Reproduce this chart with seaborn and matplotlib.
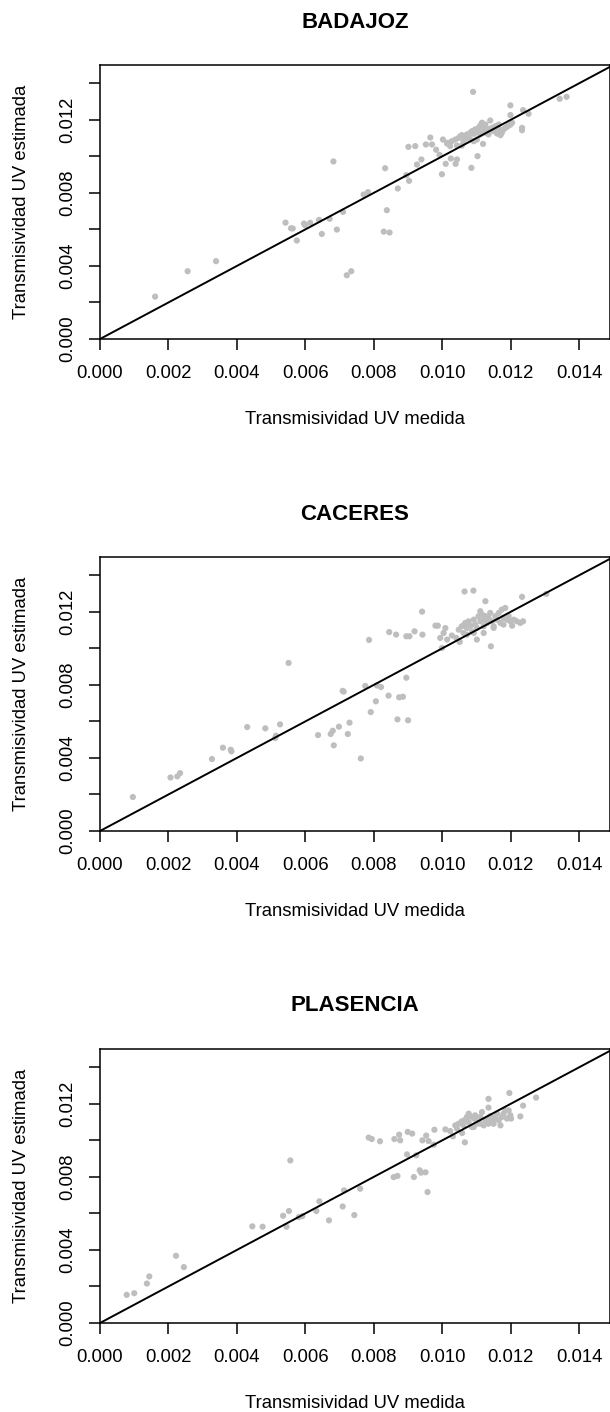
import matplotlib
matplotlib.use("Agg")
import numpy as np
import pandas as pd
import matplotlib.pyplot as plt
import seaborn as sns

#### Data ####

estaciones = ["BADAJOZ", "CACERES", "PLASENCIA"]

badajoz_med = [0.00161, 0.00256, 0.00339, 0.00542, 0.00558, 0.00563, 0.00575, 0.00596, 0.00599, 0.00614,
               0.00640, 0.00648, 0.00671, 0.00682, 0.00692, 0.00710, 0.00721, 0.00734, 0.00770, 0.00783,
               0.00829, 0.00833, 0.00838, 0.00846, 0.00870, 0.00895, 0.00903, 0.00901, 0.00921, 0.00926,
               0.00939, 0.00952, 0.00965, 0.00970, 0.00982, 0.00992, 0.00999, 0.01002, 0.01010, 0.01016,
               0.01025, 0.01023, 0.01039, 0.01043, 0.01085, 0.01090, 0.01103, 0.01119, 0.01140, 0.01199,
               0.01199, 0.01233, 0.01233, 0.01236, 0.01252, 0.01343, 0.01363,
               0.01014, 0.01028, 0.01038, 0.01048, 0.01053, 0.01057, 0.01062, 0.01067, 0.01072, 0.01077,
               0.01082, 0.01087, 0.01092, 0.01096, 0.01101, 0.01106, 0.01111, 0.01116, 0.01116, 0.01121,
               0.01126, 0.01131, 0.01135, 0.01140, 0.01145, 0.01150, 0.01155, 0.01160, 0.01165, 0.01170,
               0.01174, 0.01179, 0.01184, 0.01189, 0.01194, 0.01199, 0.01204, 0.01043, 0.01057, 0.01092,
               0.01101, 0.01062, 0.01082, 0.01111, 0.01126, 0.01165]
badajoz_est = [0.00232, 0.00371, 0.00426, 0.00637, 0.00606, 0.00605, 0.00539, 0.00632, 0.00623, 0.00636,
               0.00652, 0.00575, 0.00658, 0.00972, 0.00599, 0.00696, 0.00349, 0.00371, 0.00791, 0.00804,
               0.00588, 0.00935, 0.00705, 0.00583, 0.00824, 0.00897, 0.00866, 0.01052, 0.01056, 0.00955,
               0.00983, 0.01065, 0.01103, 0.01065, 0.01036, 0.01008, 0.00902, 0.01092, 0.00959, 0.01074,
               0.00988, 0.01056, 0.00959, 0.00983, 0.00937, 0.01353, 0.01001, 0.01068, 0.01196, 0.01279,
               0.01226, 0.01156, 0.01143, 0.01253, 0.01233, 0.01315, 0.01326,
               0.01070, 0.01083, 0.01092, 0.01101, 0.01111, 0.01116, 0.01107, 0.01096, 0.01120, 0.01111,
               0.01129, 0.01138, 0.01123, 0.01147, 0.01132, 0.01156, 0.01169, 0.01184, 0.01143, 0.01162,
               0.01129, 0.01151, 0.01120, 0.01143, 0.01156, 0.01138, 0.01165, 0.01125, 0.01147, 0.01116,
               0.01129, 0.01147, 0.01156, 0.01162, 0.01169, 0.01174, 0.01184, 0.01059, 0.01059, 0.01083,
               0.01092, 0.01083, 0.01092, 0.01120, 0.01174, 0.01174]

caceres_med = [0.00096, 0.00206, 0.00226, 0.00234, 0.00327, 0.00359, 0.00382, 0.00384, 0.00430, 0.00483,
               0.00512, 0.00514, 0.00526, 0.00551, 0.00637, 0.00674, 0.00680, 0.00683, 0.00698, 0.00709,
               0.00712, 0.00724, 0.00729, 0.00762, 0.00775, 0.00786, 0.00791, 0.00806, 0.00809, 0.00821,
               0.00843, 0.00845, 0.00865, 0.00869, 0.00874, 0.00885, 0.00895, 0.00895, 0.00900, 0.00904,
               0.00919, 0.00941, 0.00942, 0.00980, 0.00987, 0.00994, 0.00999, 0.01004, 0.01009, 0.01014,
               0.01041, 0.01051, 0.01065, 0.01091, 0.01101, 0.01126, 0.01142, 0.01233, 0.01304,
               0.01048, 0.01057, 0.01062, 0.01067, 0.01072, 0.01077, 0.01082, 0.01087, 0.01092, 0.01096,
               0.01101, 0.01106, 0.01111, 0.01111, 0.01116, 0.01121, 0.01121, 0.01126, 0.01131, 0.01135,
               0.01140, 0.01145, 0.01150, 0.01155, 0.01160, 0.01165, 0.01170, 0.01174, 0.01179, 0.01184,
               0.01189, 0.01194, 0.01199, 0.01204, 0.01209, 0.01218, 0.01228, 0.01236, 0.01072, 0.01092,
               0.01028, 0.01121, 0.01150, 0.01179]
caceres_est = [0.00186, 0.00293, 0.00299, 0.00317, 0.00394, 0.00456, 0.00445, 0.00436, 0.00569, 0.00562,
               0.00509, 0.00522, 0.00584, 0.00920, 0.00525, 0.00531, 0.00549, 0.00469, 0.00571, 0.00767,
               0.00763, 0.00531, 0.00593, 0.00397, 0.00794, 0.01046, 0.00651, 0.00710, 0.00797, 0.00788,
               0.00741, 0.01089, 0.01075, 0.00611, 0.00732, 0.00735, 0.01066, 0.00839, 0.00606, 0.01066,
               0.01093, 0.01201, 0.01075, 0.01124, 0.01124, 0.01057, 0.01002, 0.01084, 0.01111, 0.01048,
               0.01057, 0.01035, 0.01311, 0.01316, 0.01048, 0.01258, 0.01011, 0.01282, 0.01298,
               0.01102, 0.01121, 0.01084, 0.01139, 0.01112, 0.01148, 0.01124, 0.01093, 0.01157, 0.01130,
               0.01112, 0.01176, 0.01148, 0.01203, 0.01185, 0.01157, 0.01121, 0.01176, 0.01139, 0.01166,
               0.01194, 0.01148, 0.01121, 0.01176, 0.01157, 0.01194, 0.01139, 0.01212, 0.01166, 0.01221,
               0.01157, 0.01176, 0.01148, 0.01124, 0.01157, 0.01148, 0.01139, 0.01148, 0.01075, 0.01084,
               0.01070, 0.01084, 0.01112, 0.01130]

plasencia_med = [0.00078, 0.00100, 0.00137, 0.00144, 0.00222, 0.00245, 0.00445, 0.00475, 0.00535, 0.00545,
                 0.00552, 0.00556, 0.00581, 0.00591, 0.00632, 0.00641, 0.00669, 0.00709, 0.00713, 0.00743,
                 0.00760, 0.00785, 0.00794, 0.00818, 0.00858, 0.00869, 0.00860, 0.00874, 0.00877, 0.00897,
                 0.00899, 0.00912, 0.00917, 0.00924, 0.00934, 0.00938, 0.00942, 0.00951, 0.00953, 0.00957,
                 0.00960, 0.00975, 0.00977, 0.01009, 0.01023, 0.01031, 0.01058, 0.01066, 0.01135, 0.01135,
                 0.01196, 0.01228, 0.01236, 0.01274,
                 0.01038, 0.01048, 0.01057, 0.01062, 0.01067, 0.01072, 0.01077, 0.01082, 0.01087, 0.01092,
                 0.01096, 0.01101, 0.01106, 0.01111, 0.01116, 0.01121, 0.01126, 0.01131, 0.01135, 0.01140,
                 0.01145, 0.01150, 0.01155, 0.01160, 0.01165, 0.01170, 0.01174, 0.01179, 0.01184, 0.01189,
                 0.01194, 0.01199, 0.01201, 0.01092, 0.01043, 0.01077, 0.01111, 0.01148]
plasencia_est = [0.00154, 0.00163, 0.00216, 0.00255, 0.00368, 0.00306, 0.00529, 0.00527, 0.00587, 0.00527,
                 0.00613, 0.00890, 0.00580, 0.00585, 0.00613, 0.00666, 0.00562, 0.00638, 0.00726, 0.00591,
                 0.00735, 0.01015, 0.01007, 0.00995, 0.00799, 0.00805, 0.01007, 0.01031, 0.01000, 0.00923,
                 0.01046, 0.01037, 0.00799, 0.00918, 0.00836, 0.00823, 0.01000, 0.00825, 0.01026, 0.00717,
                 0.00996, 0.00976, 0.01058, 0.01060, 0.01051, 0.01022, 0.01040, 0.00989, 0.01227, 0.01179,
                 0.01259, 0.01131, 0.01190, 0.01234,
                 0.01082, 0.01091, 0.01104, 0.01082, 0.01113, 0.01128, 0.01100, 0.01132, 0.01073, 0.01119,
                 0.01137, 0.01091, 0.01113, 0.01128, 0.01155, 0.01082, 0.01110, 0.01119, 0.01091, 0.01132,
                 0.01106, 0.01091, 0.01119, 0.01146, 0.01110, 0.01082, 0.01128, 0.01146, 0.01164, 0.01119,
                 0.01164, 0.01137, 0.01119, 0.01073, 0.01064, 0.01146, 0.01091, 0.01124]

medida = [badajoz_med, caceres_med, plasencia_med]
estimada = [badajoz_est, caceres_est, plasencia_est]

x_ticks = [0.000, 0.002, 0.004, 0.006, 0.008, 0.010, 0.012, 0.014]
y_ticks = [0.000, 0.002, 0.004, 0.006, 0.008, 0.010, 0.012, 0.014]
y_tick_labels = ["0.000", "", "0.004", "", "0.008", "", "0.012", ""]

#### Plot ####

sns.set_style("ticks")
plt.rcParams["font.family"] = ["Liberation Sans", "DejaVu Sans"]
plt.rcParams.update({"text.color": "black", "axes.labelcolor": "black",
                     "xtick.color": "black", "ytick.color": "black"})

W, H = 610, 1412
fig = plt.figure(figsize=(W / 100, H / 100), dpi=100)

panel_tops = [65, 557, 1049]   # px from top
panel_h = 274
left_px = 100

for i, est in enumerate(estaciones):
    top = panel_tops[i]
    ax = fig.add_axes([left_px / W, 1 - (top + panel_h) / H, (W - left_px) / W, panel_h / H])

    df = pd.DataFrame({"medida": medida[i], "estimada": estimada[i]})
    sns.scatterplot(data=df, x="medida", y="estimada", ax=ax, color="#BEBEBE",
                    s=20, edgecolor="none", linewidth=0, zorder=2)
    ax.axline((0, 0), slope=1, color="black", lw=1.4, zorder=3)

    ax.set_xlim(0, 0.0149)
    ax.set_ylim(0, 0.0150)

    ax.set_xticks(x_ticks)
    ax.set_xticklabels([f"{t:.3f}" for t in x_ticks])
    ax.set_yticks(y_ticks)
    ax.set_yticklabels(y_tick_labels, rotation=90, va="center")

    ax.tick_params(axis="both", direction="out", length=8, width=1.1, labelsize=13.3, color="black")
    ax.tick_params(axis="x", pad=11)
    ax.tick_params(axis="y", pad=9)

    for sp in ax.spines.values():
        sp.set_visible(True)
        sp.set_linewidth(1.1)
        sp.set_color("black")

    ax.set_xlabel("Transmisividad UV medida", fontsize=13.3)
    ax.set_ylabel("Transmisividad UV estimada", fontsize=13.3)
    ax.xaxis.set_label_coords(0.5, -72 / panel_h)
    ax.yaxis.set_label_coords(-70 / (W - left_px), 0.5)
    ax.set_title(est, fontsize=16, fontweight="bold", pad=27, color="black")

fig.savefig("out.png", dpi=100)
plt.close(fig)
